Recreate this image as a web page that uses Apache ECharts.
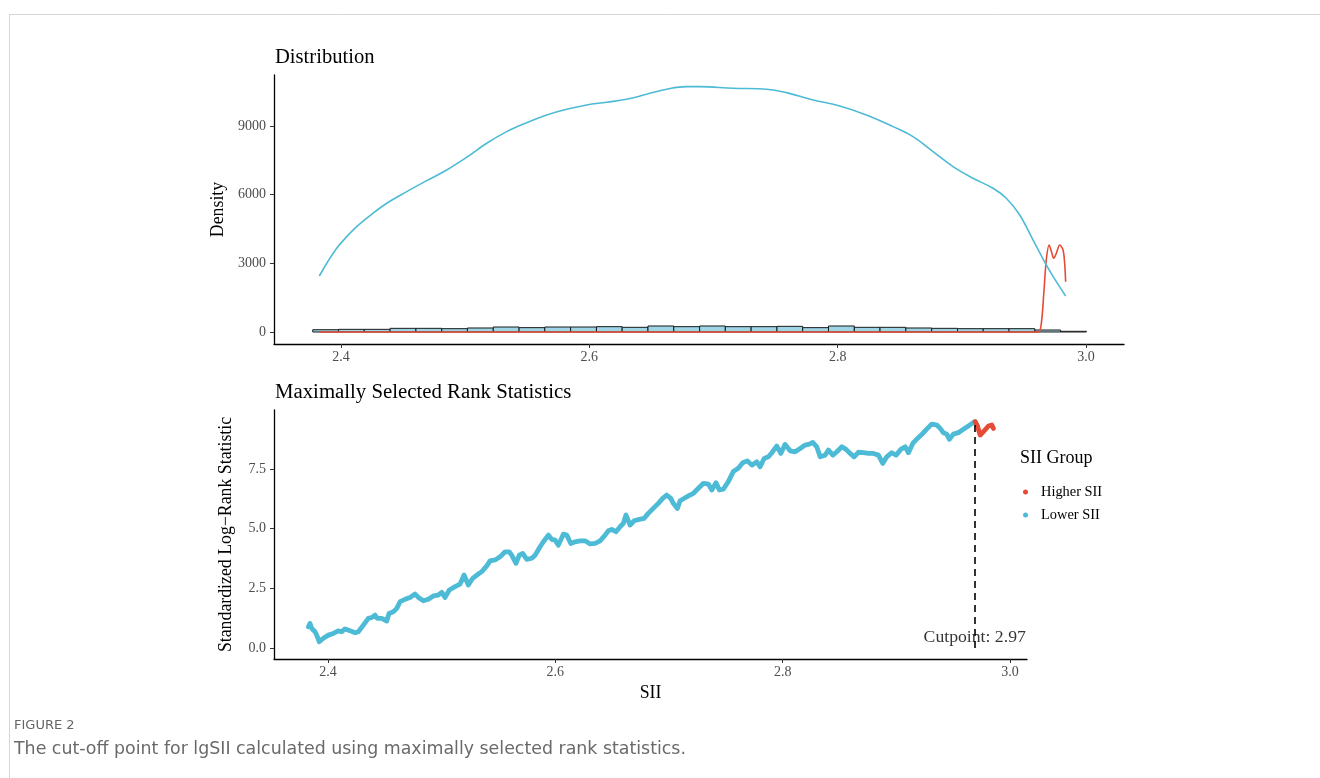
<!DOCTYPE html>
<html>
<head>
<meta charset="utf-8">
<script src="https://cdn.jsdelivr.net/npm/echarts@6/dist/echarts.min.js"></script>
<style>
html, body { margin: 0; padding: 0; background: #fff; }
#main { width: 1320px; height: 778px; }
</style>
</head>
<body>
<div id="main"></div>
<script>
// top panel: histogram bins (edges) and heights
var histEdges = [2.3772, 2.3980, 2.4187, 2.4395, 2.4603, 2.4811, 2.5018, 2.5226, 2.5434, 2.5641,
    2.5849, 2.6057, 2.6264, 2.6472, 2.6680, 2.6888, 2.7095, 2.7303, 2.7511, 2.7718,
    2.7926, 2.8134, 2.8341, 2.8549, 2.8757, 2.8965, 2.9172, 2.9380, 2.9588, 2.9795, 3.0003];
var histHeights = [100, 116, 116, 160, 160, 145, 175, 218, 190, 218, 218, 233, 204, 262, 233,
    262, 233, 233, 247, 190, 262, 204, 204, 175, 160, 145, 145, 145, 87, 30];

// density of lower SII group
var densLowX = [2.3825, 2.3885, 2.3965, 2.4046, 2.4126, 2.4233, 2.4368, 2.4529, 2.4690, 2.4851,
    2.5012, 2.5173, 2.5334, 2.5495, 2.5656, 2.5817, 2.5978, 2.6139, 2.6300, 2.6461,
    2.6622, 2.6783, 2.6890, 2.7158, 2.7427, 2.7588, 2.7802, 2.8017, 2.8231, 2.8446,
    2.8607, 2.8768, 2.8929, 2.9090, 2.9251, 2.9358, 2.9466, 2.9573, 2.9680, 2.9761, 2.9836];
var densLowY = [2445, 3000, 3655, 4162, 4600, 5080, 5620, 6127, 6607, 7075,
    7629, 8240, 8747, 9140, 9476, 9725, 9913, 10031, 10162, 10380,
    10599, 10712, 10712, 10640, 10599, 10450, 10130, 9870, 9476, 8966,
    8530, 7874, 7219, 6712, 6276, 5839, 5109, 4018, 2926, 2197, 1572];

// density of higher SII group
var densHighX = [2.3825, 2.9614, 2.9640, 2.9660, 2.9680, 2.9703, 2.9722, 2.9740, 2.9761, 2.9788,
    2.9815, 2.9828, 2.9836];
var densHighY = [0, 0, 380, 1690, 3144, 3800, 3507, 3218, 3436, 3800, 3581, 3000, 2197];

// bottom panel: standardized log-rank statistic
var statLowX = [2.3827, 2.3842, 2.3857, 2.3886, 2.3901, 2.3923, 2.3959, 2.4003, 2.4047, 2.4091,
    2.4121, 2.4150, 2.4194, 2.4238, 2.4267, 2.4311, 2.4355, 2.4385, 2.4414, 2.4434,
    2.4473, 2.4517, 2.4537, 2.4575, 2.4605, 2.4634, 2.4678, 2.4722, 2.4766, 2.4795,
    2.4839, 2.4883, 2.4927, 2.4971, 2.5001, 2.5030, 2.5067, 2.5118, 2.5162, 2.5197,
    2.5235, 2.5273, 2.5323, 2.5353, 2.5397, 2.5426, 2.5470, 2.5514, 2.5558, 2.5595,
    2.5616, 2.5654, 2.5683, 2.5713, 2.5749, 2.5793, 2.5822, 2.5866, 2.5895, 2.5939,
    2.5969, 2.5998, 2.6027, 2.6071, 2.6101, 2.6136, 2.6174, 2.6218, 2.6262, 2.6306,
    2.6350, 2.6394, 2.6438, 2.6467, 2.6497, 2.6534, 2.6570, 2.6598, 2.6622, 2.6658,
    2.6693, 2.6739, 2.6781, 2.6818, 2.6862, 2.6906, 2.6945, 2.6980, 2.7016, 2.7038,
    2.7074, 2.7098, 2.7171, 2.7215, 2.7259, 2.7303, 2.7347, 2.7377, 2.7414, 2.7443,
    2.7478, 2.7522, 2.7566, 2.7610, 2.7649, 2.7690, 2.7729, 2.7773, 2.7802, 2.7837,
    2.7875, 2.7905, 2.7949, 2.7984, 2.8022, 2.8066, 2.8110, 2.8154, 2.8198, 2.8235,
    2.8265, 2.8300, 2.8330, 2.8374, 2.8403, 2.8442, 2.8477, 2.8521, 2.8558, 2.8594,
    2.8629, 2.8667, 2.8711, 2.8755, 2.8799, 2.8843, 2.8881, 2.8916, 2.8960, 2.8998,
    2.9040, 2.9078, 2.9107, 2.9145, 2.9186, 2.9233, 2.9274, 2.9313, 2.9357, 2.9386,
    2.9415, 2.9444, 2.9467, 2.9502, 2.9546, 2.9590, 2.9634, 2.9673, 2.9694];
var statLowY = [0.89, 1.03, 0.82, 0.68, 0.54, 0.26, 0.41, 0.54, 0.61, 0.72,
    0.68, 0.80, 0.72, 0.64, 0.68, 0.96, 1.24, 1.28, 1.38, 1.24,
    1.24, 1.13, 1.45, 1.52, 1.66, 1.94, 2.04, 2.12, 2.26, 2.12,
    1.98, 2.04, 2.18, 2.22, 2.33, 2.12, 2.43, 2.57, 2.68, 3.06,
    2.64, 2.92, 3.10, 3.20, 3.44, 3.65, 3.69, 3.82, 4.03, 4.03,
    3.89, 3.55, 3.89, 3.96, 3.71, 3.76, 3.89, 4.24, 4.45, 4.73,
    4.55, 4.52, 4.31, 4.77, 4.73, 4.38, 4.45, 4.49, 4.49, 4.36,
    4.38, 4.49, 4.73, 4.91, 4.97, 4.87, 5.08, 5.22, 5.57, 5.15,
    5.33, 5.39, 5.43, 5.64, 5.85, 6.06, 6.27, 6.41, 6.27, 6.06,
    5.85, 6.17, 6.37, 6.48, 6.69, 6.90, 6.87, 6.62, 6.92, 6.62,
    6.65, 6.97, 7.39, 7.53, 7.76, 7.84, 7.66, 7.80, 7.59, 7.94,
    8.01, 8.18, 8.46, 8.15, 8.53, 8.26, 8.22, 8.36, 8.50, 8.54,
    8.61, 8.43, 8.01, 8.08, 8.29, 8.08, 8.22, 8.43, 8.32, 8.15,
    8.01, 8.20, 8.18, 8.15, 8.15, 8.08, 7.73, 8.01, 8.18, 8.08,
    8.32, 8.43, 8.18, 8.57, 8.78, 8.99, 9.20, 9.38, 9.34, 9.20,
    9.02, 8.96, 8.74, 8.96, 9.02, 9.16, 9.30, 9.43, 9.48];
var statHighX = [2.9694, 2.9714, 2.9738, 2.9773, 2.9811, 2.9840, 2.9855];
var statHighY = [9.48, 9.30, 8.92, 9.10, 9.30, 9.34, 9.20];

var cutpoint = 2.969;

var xTicks = [2.4, 2.6, 2.8, 3.0];
var densTicks = [0, 3000, 6000, 9000];
var statTicks = [0, 2.5, 5, 7.5];

var blue = '#4DBBD5';
var red = '#E64B35';
var serif = 'Liberation Serif';

function zip(xs, ys) {
    return xs.map(function (x, i) { return [x, ys[i]]; });
}

function oneDecimal(v) { return v.toFixed(1); }
function plain(v) { return String(v); }

function axis(extra) {
    var a = {
        type: 'value',
        scale: true,
        splitLine: { show: false },
        axisLine: { show: true, onZero: false, lineStyle: { color: '#000', width: 1.3 } },
        axisTick: { show: true, length: 4, lineStyle: { color: '#333', width: 1 } },
        nameTextStyle: { color: '#000', fontFamily: serif, fontSize: 17.8 }
    };
    for (var k in extra) a[k] = extra[k];
    a.axisLabel = {
        color: '#4d4d4d', fontFamily: serif, fontSize: 14,
        margin: extra.labelMargin, formatter: extra.fmt, customValues: extra.ticks
    };
    a.axisTick.customValues = extra.ticks;
    return a;
}

var histData = histHeights.map(function (h, i) {
    return [histEdges[i], histEdges[i + 1], h];
});

var myChart = echarts.init(document.getElementById('main'));

var option = {
    backgroundColor: '#fff',
    animation: false,
    title: [{
        text: 'Distribution',
        left: 270, top: 42,
        textStyle: { fontFamily: serif, fontSize: 20.6, fontWeight: 'normal', color: '#000' }
    }, {
        text: 'Maximally Selected Rank Statistics',
        left: 270, top: 377,
        textStyle: { fontFamily: serif, fontSize: 20.8, fontWeight: 'normal', color: '#000' }
    }, {
        text: 'SII Group',
        left: 1015, top: 444,
        textStyle: { fontFamily: serif, fontSize: 18, fontWeight: 'normal', color: '#000' }
    }, {
        text: 'FIGURE 2',
        left: 9, top: 714,
        textStyle: { fontFamily: 'DejaVu Sans', fontSize: 13, fontWeight: 'normal', color: '#666' }
    }, {
        text: 'The cut-off point for lgSII calculated using maximally selected rank statistics.',
        left: 9, top: 736,
        textStyle: { fontFamily: 'DejaVu Sans', fontSize: 17.4, fontWeight: 'normal', color: '#6a6a6a' }
    }],
    legend: {
        orient: 'vertical',
        left: 1018, top: 480,
        itemWidth: 5, itemHeight: 5, itemGap: 9,
        icon: 'circle',
        data: ['Higher SII', 'Lower SII'],
        textStyle: { fontFamily: serif, fontSize: 14.4, color: '#000', padding: [0, 0, 0, 8] }
    },
    graphic: [{
        type: 'line',
        shape: { x1: 9, y1: 14.5, x2: 1320, y2: 14.5 },
        style: { stroke: '#d6d6d6', lineWidth: 1 }
    }, {
        type: 'line',
        shape: { x1: 9.5, y1: 14, x2: 9.5, y2: 778 },
        style: { stroke: '#d6d6d6', lineWidth: 1 }
    }],
    grid: [
        { left: 274, right: 196, top: 75, height: 269 },
        { left: 274, right: 293, top: 410, height: 249 }
    ],
    xAxis: [
        axis({ gridIndex: 0, min: 2.346, max: 3.0306, ticks: xTicks, labelMargin: 6, fmt: oneDecimal }),
        axis({ gridIndex: 1, min: 2.3525, max: 3.015, ticks: xTicks, labelMargin: 6, fmt: oneDecimal,
            name: 'SII', nameLocation: 'middle', nameGap: 25 })
    ],
    yAxis: [
        axis({ gridIndex: 0, min: -524, max: 11220, ticks: densTicks, labelMargin: 8, fmt: plain,
            name: 'Density', nameLocation: 'middle', nameGap: 39 }),
        axis({ gridIndex: 1, min: -0.46, max: 9.97, ticks: statTicks, labelMargin: 8, fmt: oneDecimal,
            name: 'Standardized Log\u2212Rank Statistic', nameLocation: 'middle', nameGap: 39 })
    ],
    series: [{
        type: 'custom',
        xAxisIndex: 0, yAxisIndex: 0,
        silent: true,
        data: histData,
        renderItem: function (params, api) {
            var p0 = api.coord([api.value(0), api.value(2)]);
            var p1 = api.coord([api.value(1), 0]);
            return {
                type: 'rect',
                shape: { x: p0[0], y: p0[1], width: p1[0] - p0[0], height: p1[1] - p0[1] },
                style: { fill: '#9dd5e4', stroke: '#1a1a1a', lineWidth: 1 }
            };
        },
        z: 1
    }, {
        type: 'line',
        xAxisIndex: 0, yAxisIndex: 0,
        data: zip(densHighX, densHighY),
        showSymbol: false,
        smooth: 0.3,
        lineStyle: { color: red, width: 1.6 },
        z: 3
    }, {
        type: 'line',
        xAxisIndex: 0, yAxisIndex: 0,
        data: zip(densLowX, densLowY),
        showSymbol: false,
        smooth: 0.4,
        lineStyle: { color: blue, width: 1.6 },
        z: 4
    }, {
        name: 'Lower SII',
        type: 'line',
        xAxisIndex: 1, yAxisIndex: 1,
        data: zip(statLowX, statLowY),
        showSymbol: false,
        itemStyle: { color: blue },
        lineStyle: { color: blue, width: 4.8, cap: 'round', join: 'round' },
        z: 3
    }, {
        name: 'Higher SII',
        type: 'line',
        xAxisIndex: 1, yAxisIndex: 1,
        data: zip(statHighX, statHighY),
        showSymbol: false,
        itemStyle: { color: red },
        lineStyle: { color: red, width: 4.8, cap: 'round', join: 'round' },
        markLine: {
            silent: true,
            symbol: 'none',
            lineStyle: { color: '#000', type: [7, 5], width: 1.6 },
            label: { show: false },
            data: [[{ coord: [cutpoint, 0] }, { coord: [cutpoint, statHighY[0]] }]]
        },
        z: 4
    }, {
        type: 'scatter',
        xAxisIndex: 1, yAxisIndex: 1,
        data: [[cutpoint, 0.45]],
        symbolSize: 0,
        label: {
            show: true,
            position: 'inside',
            formatter: 'Cutpoint: ' + cutpoint.toFixed(2),
            fontFamily: serif, fontSize: 17.7, color: '#000'
        },
        z: 5
    }]
};

myChart.setOption(option);
</script>
</body>
</html>
